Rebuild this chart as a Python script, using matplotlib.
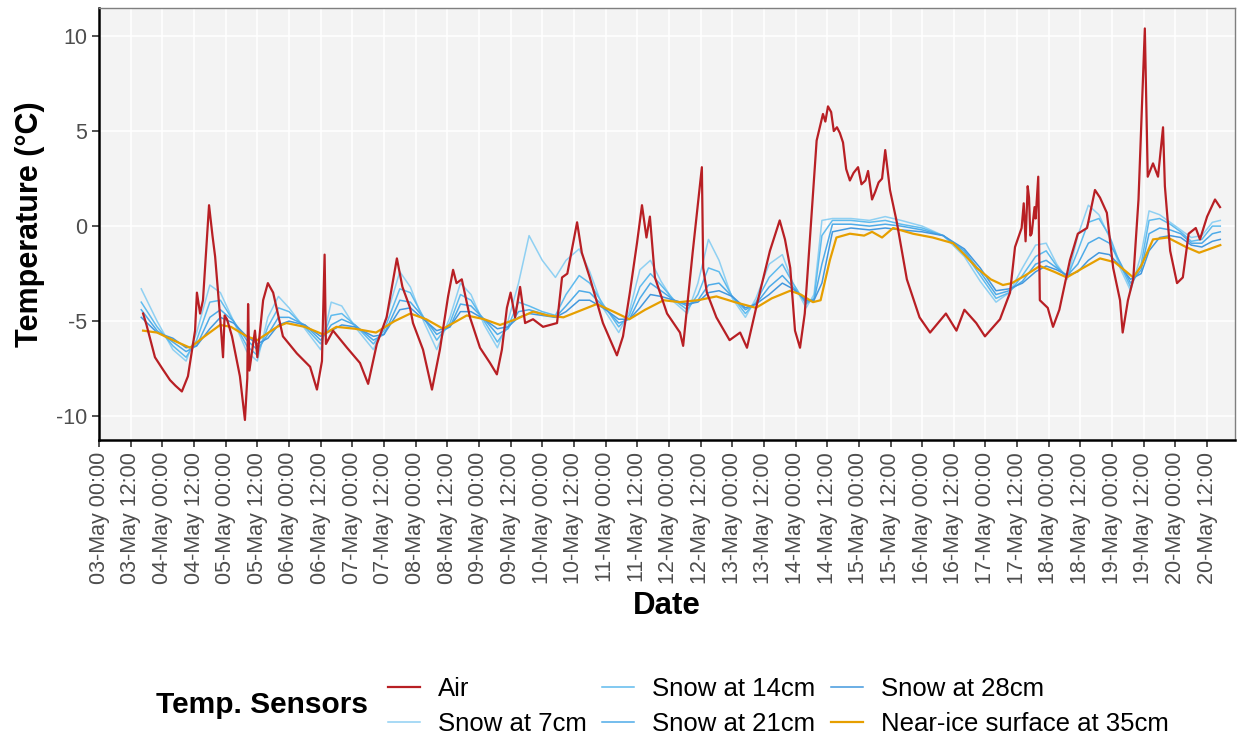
import numpy as np
import pandas as pd
import matplotlib
matplotlib.use('Agg')
import matplotlib.pyplot as plt
import matplotlib.dates as mdates

plt.rcParams['font.family'] = ['Liberation Sans', 'DejaVu Sans']

start = pd.Timestamp('2019-05-03 00:00')

# air temperature (hours since 03-May 00:00, degC)
air_h = [16.7, 18, 21.2, 24, 26.9, 29, 31.4, 33.7, 36.4, 37.1, 38.3, 39.4, 40.5, 41.7, 43, 44, 45.9, 47, 47.6,
         48.5, 50.4, 53.4, 55.3, 56.2, 56.5, 57.0, 59.1, 60, 62.2, 64, 66, 69.7, 75, 80, 82.6, 84.5, 85.5, 86,
         88.7, 94, 98.9, 102, 105.3, 109, 112.9, 115, 117.9, 119, 122.8, 126.2, 129.2, 132.3, 134.2, 135.5,
         137.5, 140.6, 144.4, 148.2, 150.8, 152.7, 154.6, 156, 157.7, 159.6, 161.5, 164.5, 168.3, 173.6, 175.5,
         177.5, 181.2, 183, 186, 191, 196.3, 198.6, 201.2, 203.9, 205.8, 207.5, 208.8, 210.7, 215.3, 220.2,
         221.4, 225, 228.5, 229, 230.4, 234, 239, 243, 245.6, 249.4, 254.3, 258, 260, 262, 263.8, 265.7, 267.5,
         268.7, 272, 274.4, 275.3, 276.3, 277.5, 278.5, 279.7, 280.8, 282, 283.2, 284.6, 286, 287.7, 289,
         290.5, 291.5, 293, 294.2, 295.5, 296.8, 298, 299.8, 302.4, 306.2, 311,
         315, 321, 325, 328, 332.5, 335.8, 341.5, 345.3, 347.2, 349.7, 350.5, 351.2, 352, 352.5, 353, 353.5,
         354.6, 355, 356, 356.6, 359.6,
         361.6, 364, 368, 371, 374.5, 377.5, 379.4, 382, 384.4, 387, 388, 390, 392, 394, 396.4, 397.5, 399.5,
         401.4, 403.3, 404, 406, 408.6, 410.8, 413, 415.7, 417.3, 420, 423, 424.9]
air_t = [-4.6, -5.2, -6.9, -7.5, -8.1, -8.4, -8.7, -7.9, -5.5, -3.5, -4.6, -3.9, -1.5, 1.1, -0.5, -1.6, -4.8, -6.9, -4.7,
         -4.9, -5.8, -7.9, -10.2, -8.0, -4.1, -7.6, -5.5, -6.9, -3.9, -3.0, -3.5, -5.8, -6.7, -7.4, -8.6, -7.1, -1.5, -6.2,
         -5.5, -6.4, -7.2, -8.3, -6.2, -4.8, -1.7, -3.2, -4.3, -5.1, -6.5, -8.6, -6.5, -3.7, -2.3, -3.0,
         -2.8, -4.8, -6.4, -7.2, -7.8, -6.5, -4.3, -3.5, -4.8, -3.2, -5.1, -4.9, -5.3, -5.1, -2.7,
         -2.5, 0.2, -1.4, -2.7, -5.1, -6.8, -5.8, -3.5, -0.9, 1.1, -0.6, 0.5, -2.7, -4.6, -5.6,
         -6.3, -1.4, 3.1, -2.2, -3.5, -4.8, -6.0, -5.6, -6.4, -4.1, -1.3, 0.3, -0.7, -2.2, -5.5, -6.4, -4.6,
         -2.2, 4.5, 5.9, 5.5, 6.3, 6.0, 5.0, 5.2, 4.9, 4.4, 3.0, 2.4, 2.8, 3.1, 2.2,
         2.4, 2.9, 1.4, 1.8, 2.3, 2.5, 4.0, 1.9, 0.2, -2.8, -4.8,
         -5.6, -4.6, -5.5, -4.4, -5.1, -5.8, -4.9, -3.5, -1.1, -0.1, 1.2, -0.8, 2.1, 1.5, -0.5, -0.4,
         1.0, 0.4, 2.6, -3.9, -4.3,
         -5.3, -4.4, -1.8, -0.4, -0.1, 1.9, 1.5, 0.7, -2.2, -3.9, -5.6, -3.9, -2.8, 1.4, 10.4, 2.6, 3.3,
         2.6, 5.2, 2.1, -1.3, -3.0, -2.7, -0.4, -0.1, -0.7, 0.5, 1.4, 1.0]

# snow sensors, common time grid
snow_h = [16, 22, 28, 33, 37, 42, 46, 51, 56, 60, 64, 68, 72, 78, 84, 88, 92, 97, 104, 108, 114, 118, 123, 128,
          133, 137, 141, 146, 151, 155, 159, 163, 168, 173, 177, 182, 186, 191, 197, 201, 205, 209, 213, 218,
          223, 227, 231, 235, 240, 245, 249, 254, 259, 263, 268, 271, 274, 278, 285, 292, 298, 304, 312, 320,
          328, 334, 340, 345, 350, 355, 359, 363, 367, 371, 375, 379, 383, 387, 391, 395, 398, 402, 406, 410,
          414, 418, 422, 425]
snow7 = [-3.3, -5.0, -6.5, -7.1, -5.6, -3.1, -3.5, -5.0, -6.6, -7.1, -4.8, -3.7, -4.3, -5.4, -6.5, -4.0, -4.2, -5.3,
         -6.5, -5.2, -2.4, -3.2, -5.0, -6.5, -4.8, -3.0, -3.6, -5.2, -6.4, -5.0, -3.0, -0.5, -1.8, -2.7, -1.8, -1.2,
         -2.4, -4.3, -5.6, -4.5, -2.3, -1.8, -2.9, -4.0, -4.6, -3.0, -0.7, -1.8, -3.8, -4.8, -3.8, -2.0, -1.5, -3.0,
         -4.3, -3.6, 0.3, 0.4, 0.4, 0.3, 0.5, 0.3, 0.0, -0.5, -1.6, -2.9, -4.0, -3.5, -2.2, -1.0, -0.9, -2.0, -2.8,
         -0.5, 1.1, 0.6, -0.6, -2.2, -3.4, -1.5, 0.8, 0.6, 0.2, -0.2, -0.6, -0.5, 0.2, 0.3]
snow14 = [-4.0, -5.3, -6.3, -6.9, -6.0, -4.0, -3.9, -5.0, -6.3, -6.8, -5.3, -4.3, -4.5, -5.3, -6.2, -4.7, -4.6, -5.2,
          -6.2, -5.5, -3.3, -3.5, -4.8, -6.0, -5.1, -3.6, -3.9, -5.0, -6.1, -5.3, -4.0, -4.2, -4.5, -4.7, -3.6, -2.6,
          -3.0, -4.1, -5.3, -4.7, -3.2, -2.5, -3.1, -3.9, -4.4, -3.6, -2.2, -2.4, -3.7, -4.6, -4.0, -2.7, -2.0, -3.0,
          -4.1, -3.8, -0.5, 0.3, 0.3, 0.2, 0.3, 0.1, -0.1, -0.5, -1.4, -2.6, -3.8, -3.5, -2.6, -1.6, -1.3, -2.1, -2.7,
          -1.3, 0.2, 0.4, -0.5, -2.0, -3.2, -2.0, 0.3, 0.4, 0.1, -0.3, -0.8, -0.7, 0.0, 0.0]
snow21 = [-4.4, -5.5, -6.1, -6.6, -6.3, -4.8, -4.4, -5.0, -6.0, -6.5, -5.7, -4.8, -4.8, -5.2, -6.0, -5.2, -4.9, -5.2,
          -6.0, -5.7, -3.9, -4.0, -4.8, -5.7, -5.3, -4.1, -4.2, -4.9, -5.7, -5.4, -4.5, -4.4, -4.6, -4.8, -4.2, -3.4,
          -3.5, -4.2, -5.1, -4.9, -3.8, -3.0, -3.4, -3.9, -4.2, -3.9, -3.1, -3.0, -3.7, -4.4, -4.1, -3.2, -2.6, -3.2,
          -4.0, -3.9, -2.0, 0.1, 0.1, 0.0, 0.1, 0.0, -0.2, -0.5, -1.3, -2.4, -3.6, -3.4, -2.9, -2.0, -1.8, -2.2, -2.6,
          -2.0, -0.9, -0.6, -0.9, -1.9, -3.0, -2.3, -0.4, -0.1, -0.2, -0.4, -0.9, -0.9, -0.4, -0.3]
snow28 = [-4.8, -5.6, -5.9, -6.4, -6.3, -5.4, -4.8, -5.1, -5.8, -6.2, -5.9, -5.2, -5.0, -5.2, -5.8, -5.5, -5.2, -5.3,
          -5.8, -5.7, -4.4, -4.3, -4.9, -5.5, -5.3, -4.5, -4.5, -4.9, -5.4, -5.3, -4.8, -4.6, -4.7, -4.8, -4.5, -3.9,
          -3.9, -4.3, -4.9, -4.9, -4.3, -3.6, -3.7, -3.9, -4.1, -4.0, -3.5, -3.4, -3.7, -4.3, -4.1, -3.6, -3.0, -3.3,
          -3.9, -3.9, -3.0, -0.3, -0.1, -0.2, -0.1, -0.2, -0.3, -0.5, -1.2, -2.2, -3.4, -3.3, -3.0, -2.4, -2.1, -2.3, -2.6,
          -2.4, -1.8, -1.4, -1.5, -2.1, -2.8, -2.5, -1.3, -0.6, -0.5, -0.6, -1.0, -1.1, -0.8, -0.7]

# near-ice surface sensor
ice_h = [16.7, 22, 28, 34.5, 40, 45.9, 50, 56, 60, 67.5, 71, 78, 85, 90, 97, 105, 112, 118, 124, 130.4, 139.4,
         146, 152, 158, 164.5, 170, 176, 188.7, 195, 201, 207, 214, 220, 227, 234, 241, 249, 255, 262, 266,
         270.6, 273.5, 277, 279.5, 284.6, 290, 293, 296.8, 301, 308.5, 316, 323.7, 328, 332.7, 338, 342.6, 346,
         351, 356.6, 362, 366.8, 373, 379.4, 385, 392, 395, 399.5, 405, 412, 417, 421, 425]
ice_t = [-5.5, -5.6, -6.0, -6.4, -5.8, -5.2, -5.3, -5.8, -6.0, -5.3, -5.1, -5.3, -5.7, -5.3, -5.4, -5.6, -5.0, -4.6,
         -4.9, -5.4, -4.7, -4.9, -5.2, -4.9, -4.5, -4.7, -4.8, -4.1, -4.5, -4.9, -4.4, -3.9, -4.0, -3.9, -3.7, -4.0,
         -4.3, -3.8, -3.4, -3.6, -4.0, -3.9, -1.8, -0.6, -0.4, -0.5, -0.3, -0.6, -0.1, -0.4, -0.6, -0.9, -1.5, -2.2,
         -2.8, -3.1, -3.0, -2.6, -2.1, -2.4, -2.7, -2.2, -1.7, -1.9, -2.7, -2.1, -0.7, -0.6, -1.1, -1.4, -1.2, -1.0]


def to_dates(hours):
    return start + pd.to_timedelta(hours, unit='h')


fig = plt.figure(figsize=(12.41, 7.36), dpi=100)
ax = fig.add_axes([0.0798, 0.402, 0.9152, 0.587])
ax.set_facecolor('#F3F3F3')

ax.plot(to_dates(snow_h), snow7, color='#8FD0F2', lw=1.1, label='Snow at 7cm')
ax.plot(to_dates(snow_h), snow14, color='#5FBBEE', lw=1.1, label='Snow at 14cm')
ax.plot(to_dates(snow_h), snow21, color='#4EABE8', lw=1.1, label='Snow at 21cm')
ax.plot(to_dates(snow_h), snow28, color='#4398DE', lw=1.1, label='Snow at 28cm')
ax.plot(to_dates(ice_h), ice_t, color='#E69F00', lw=1.6, label='Near-ice surface at 35cm')
ax.plot(to_dates(air_h), air_t, color='#B81F24', lw=1.6, label='Air')

ticks = pd.date_range('2019-05-03 00:00', '2019-05-20 12:00', freq='12h')
ax.set_xticks(ticks)
ax.xaxis.set_major_formatter(mdates.DateFormatter('%d-%b %H:%M'))
ax.set_xlim(start, start + pd.Timedelta(hours=430.5))
ax.set_ylim(-11.26, 11.47)
ax.set_yticks([-10, -5, 0, 5, 10])
ax.set_yticklabels(['-10', '-5', '0', '5', '10'])
ax.tick_params(axis='x', rotation=90, labelsize=15.5, colors='#333333', length=5, width=1.2)
ax.tick_params(axis='y', labelsize=15.5, colors='#333333', length=5, width=1.2)
for lab in ax.get_xticklabels() + ax.get_yticklabels():
    lab.set_color('#4D4D4D')
ax.grid(True, color='white', lw=1.2)
ax.set_axisbelow(True)
for s in ['top', 'right']:
    ax.spines[s].set_color('#7F7F7F')
    ax.spines[s].set_linewidth(1.0)
for s in ['left', 'bottom']:
    ax.spines[s].set_color('black')
    ax.spines[s].set_linewidth(1.8)

ax.set_xlabel('Date', fontsize=22.5, fontweight='bold', labelpad=5)
ax.set_ylabel('Temperature (°C)', fontsize=22, fontweight='bold', labelpad=8)

handles, labels = ax.get_legend_handles_labels()
order = ['Air', 'Snow at 7cm', 'Snow at 14cm', 'Snow at 21cm', 'Snow at 28cm', 'Near-ice surface at 35cm']
h_by = dict(zip(labels, handles))
fig.legend([h_by[k] for k in order], order, ncol=3, loc='center left',
           bbox_to_anchor=(0.294, 0.040), frameon=False, fontsize=18.5,
           handlelength=1.25, handletextpad=0.7, columnspacing=0.6, labelspacing=0.4)
fig.text(0.126, 0.042, 'Temp. Sensors', fontsize=21.5, fontweight='bold', va='center', ha='left')

fig.savefig('out.png', dpi=100)
